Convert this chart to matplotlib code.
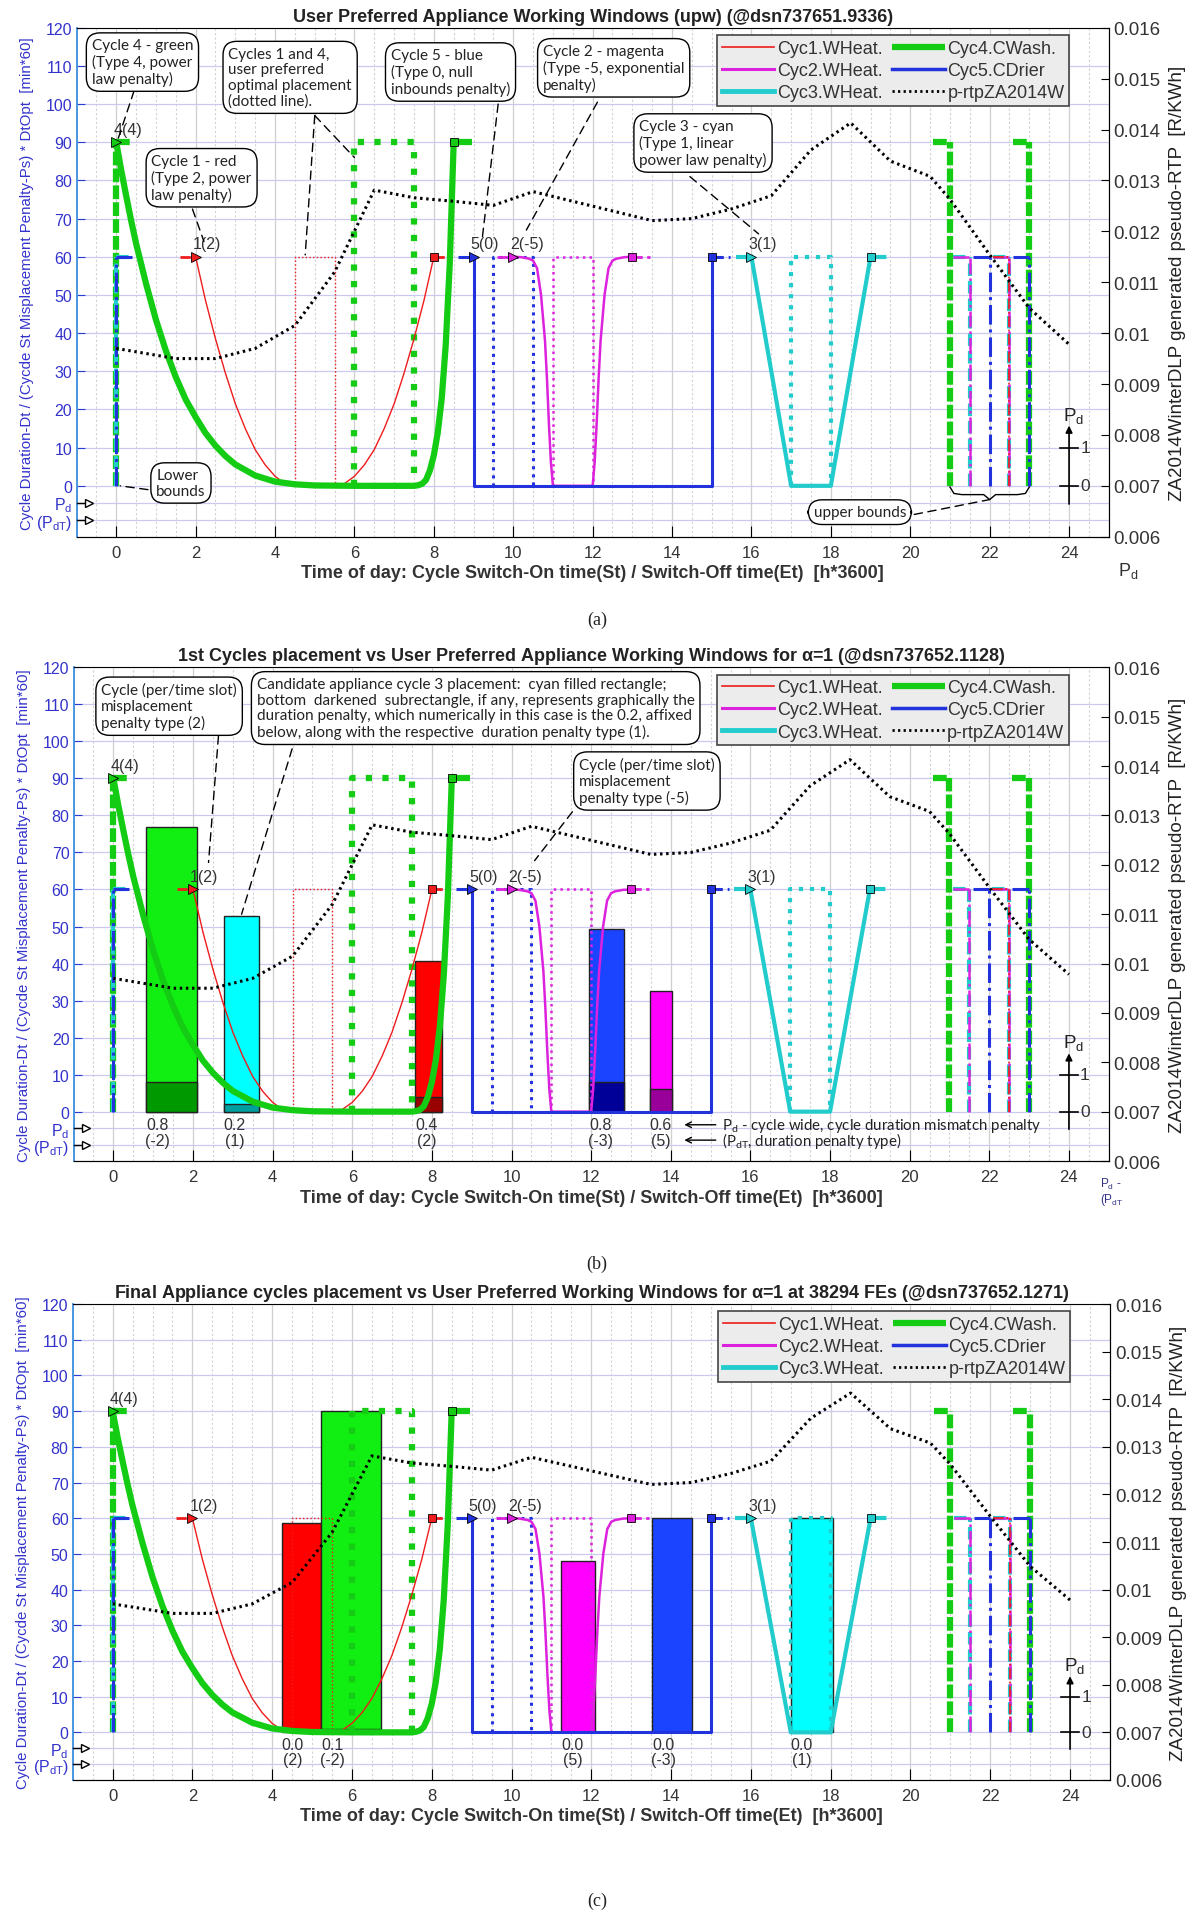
import numpy as np
import matplotlib
matplotlib.use('Agg')
import matplotlib.pyplot as plt
from matplotlib.lines import Line2D
from matplotlib.ticker import MultipleLocator

plt.rcParams['font.family'] = ['Liberation Sans', 'DejaVu Sans']
plt.rcParams['mathtext.default'] = 'regular'

# ---------------- data ----------------
cycle_names = ['Cyc1.WHeat.', 'Cyc2.WHeat.', 'Cyc3.WHeat.', 'Cyc4.CWash.', 'Cyc5.CDrier']
cycle_colors = ['#ee1c1c', '#dd22dd', '#22cccc', '#14cc14', '#2233dd']
bar_colors = ['#ff0000', '#ff00ff', '#00ffff', '#11ee11', '#1a44ff']
dark_colors = ['#990000', '#990099', '#009f9f', '#009900', '#000099']
cycle_lw = [1.0, 1.8, 3.0, 4.5, 2.2]
lower_bound = [2.0, 10.0, 16.0, 0.0, 9.0]
upper_bound = [8.0, 13.0, 19.0, 8.5, 15.0]
opt_start = [4.5, 11.0, 17.0, 6.0, 9.5]
opt_end = [5.5, 12.0, 18.0, 7.5, 10.5]
cycle_height = [60, 60, 60, 90, 60]
cycle_tag = ['1(2)', '2(-5)', '3(1)', '4(4)', '5(0)']

# penalty curves
pen_t = [
    [2.0, 2.25, 2.5, 2.75, 3.0, 3.25, 3.5, 3.75, 4.0, 4.25, 4.5,
     5.5, 5.75, 6.0, 6.25, 6.5, 6.75, 7.0, 7.25, 7.5, 7.75, 8.0],
    [10.0, 10.2, 10.4, 10.5, 10.6, 10.7, 10.8, 10.85, 10.9, 10.95, 11.0,
     12.0, 12.05, 12.1, 12.15, 12.2, 12.3, 12.4, 12.5, 12.6, 12.8, 13.0],
    [16.0, 17.0, 18.0, 19.0],
    [0.0, 0.125, 0.25, 0.375, 0.5, 0.75, 1.0, 1.25, 1.5, 1.75, 2.0, 2.25, 2.5, 2.75,
     3.0, 3.5, 4.0, 4.5, 5.0, 6.0,
     7.5, 7.6, 7.7, 7.8, 7.9, 8.0, 8.1, 8.2, 8.3, 8.4, 8.5],
    [9.0, 9.0, 15.0, 15.0],
]
pen_y = [
    [60, 48.5, 38.5, 29.5, 21.5, 15, 9.5, 5.5, 2.5, 0.6, 0,
     0, 0.6, 2.5, 5.5, 9.5, 15, 21.5, 29.5, 38.5, 48.5, 60],
    [60, 59.9, 59.5, 59, 57, 50, 38, 28, 16, 6, 0,
     0, 6, 16, 28, 38, 50, 57, 59, 59.5, 59.9, 60],
    [60, 0, 0, 60],
    [90, 82.7, 76, 69.5, 63.5, 53, 43.5, 35.4, 28.5, 22.6, 18, 13.8, 10.5, 7.8,
     5.6, 2.7, 1.1, 0.4, 0.1, 0,
     0, 0.15, 0.5, 1.5, 4, 8, 14, 23, 37, 58, 90],
    [60, 0, 0, 60],
]

# wrapped window bounds shown at the day edges
lb_wrap = [[], [], [0.0], [0.0], [0.0]]
ub_wrap = [[22.5], [21.5, 22.5], [21.5, 22.5], [21.0, 23.0], [22.0, 23.0]]

# pseudo real-time price (right axis)
price_hours = [0, 1.5, 2.5, 3.5, 4.5, 5.5, 6.5, 7.5, 8.5, 9.5, 10.5, 11.5, 12.5,
               13.5, 14.5, 15.5, 16.5, 17.5, 18.5, 19.5, 20.5, 21.0, 22.0, 23.0, 24.0]
price = [0.0097, 0.0095, 0.0095, 0.0097, 0.01015, 0.0112, 0.01281, 0.01266, 0.01259,
         0.01251, 0.01278, 0.01259, 0.0124, 0.01221, 0.01225, 0.01244, 0.0127, 0.0136,
         0.01413, 0.01338, 0.01308, 0.01263, 0.01154, 0.01049, 0.00978]

# panel (b): first placement
b_cycle = [3, 2, 0, 4, 1]
b_start = [0.83, 2.77, 7.58, 11.95, 13.47]
b_width = [1.28, 0.88, 0.67, 0.88, 0.57]
b_height = [77.0, 52.8, 40.6, 49.4, 32.7]
b_pd = [0.8, 0.2, 0.4, 0.8, 0.6]
b_pdt = ['(-2)', '(1)', '(2)', '(-3)', '(5)']

# panel (c): final placement
c_cycle = [0, 3, 1, 4, 2]
c_start = [4.24, 5.22, 11.25, 13.52, 17.0]
c_width = [0.98, 1.52, 0.83, 1.01, 1.05]
c_height = [58.7, 90.0, 48.1, 60.0, 60.0]
c_pd = [0.0, 0.1, 0.0, 0.0, 0.0]
c_pdt = ['(2)', '(-2)', '(5)', '(-3)', '(1)']

titles = [
    'User Preferred Appliance Working Windows (upw) (@dsn737651.9336)',
    r'1st Cycles placement vs User Preferred Appliance Working Windows for $\alpha$=1 (@dsn737652.1128)',
    r'Final Appliance cycles placement vs User Preferred Working Windows for $\alpha$=1 at 38294 FEs (@dsn737652.1271)',
]

PD_ROW, PDT_ROW = -4.44, -8.89
BLUE_TXT = '#3333cc'
CALLOUT = dict(boxstyle='round,pad=0.35,rounding_size=0.9', fc='white', ec='black', lw=1)


def wrap_style(i):
    if i == 3:
        return dict(ls=(0, (2.2, 0.5)), lw=4.5)
    if i == 2:
        return dict(ls=(0, (3, 1.2)), lw=3.0)
    return dict(ls='-.', lw=max(cycle_lw[i], 1.2))


def draw_panel(ax, ax2, title):
    ax.set_xlim(-1, 25)
    ax.set_ylim(-13.333, 120)
    ax2.set_ylim(0.006, 0.016)
    ax.set_axisbelow(True)

    # optimal placement (dotted rectangles)
    for i in range(5):
        h = cycle_height[i]
        ax.plot([opt_start[i], opt_start[i], opt_end[i], opt_end[i]], [0, h, h, 0],
                color=cycle_colors[i], lw=cycle_lw[i], ls=':', zorder=3)

    # wrapped bounds, thick first
    for i in sorted(range(5), key=lambda k: -cycle_lw[k]):
        h = cycle_height[i]
        st = wrap_style(i)
        for x in lb_wrap[i]:
            ax.plot([x, x], [0, h], color=cycle_colors[i], zorder=3, **st)
            ax.plot([x, x + 0.4], [h, h], color=cycle_colors[i], zorder=3, **st)
        for x in ub_wrap[i]:
            ax.plot([x, x], [0, h], color=cycle_colors[i], zorder=3, **st)
            ax.plot([x - 0.42, x], [h, h], color=cycle_colors[i], zorder=3, **st)

    # penalty curves, bounds, markers
    for i in range(5):
        c, h, lw = cycle_colors[i], cycle_height[i], cycle_lw[i]
        ax.plot(pen_t[i], pen_y[i], color=c, lw=lw, zorder=4, solid_joinstyle='round')
        if lower_bound[i] > 0:
            ax.plot([lower_bound[i] - 0.4, lower_bound[i]], [h, h], color=c, lw=max(lw, 2), ls='--', zorder=4)
        ax.plot([upper_bound[i], upper_bound[i] + 0.45], [h, h], color=c, lw=max(lw, 2), ls='--', zorder=4)
        ax.plot(lower_bound[i], h, marker='>', ms=7, mfc=c, mec='k', mew=0.6, zorder=5)
        ax.plot(upper_bound[i], h, marker='s', ms=5.5, mfc=c, mec='k', mew=0.6, zorder=5)
        ax.text(lower_bound[i] - 0.07, h + 1.5, cycle_tag[i], fontsize=11.5, color='#333333',
                ha='left', va='bottom', zorder=6)

    # price line on right axis
    ax2.plot(price_hours, price, color='k', lw=2.2, ls=(0, (0.8, 1.2)), zorder=5)

    # grids / ticks
    ax.set_xticks(np.arange(0, 25, 2))
    ax.xaxis.set_minor_locator(MultipleLocator(0.5))
    ax.grid(which='major', axis='x', color='#cfcfcf', lw=0.9)
    ax.grid(which='minor', axis='x', color='#d2d2d2', lw=0.8, ls=(0, (2, 2)))
    yt = [PDT_ROW, PD_ROW] + list(range(0, 121, 10))
    ax.set_yticks(yt)
    ax.set_yticklabels([r'(P$_{dT}$)', r'P$_d$'] + [str(v) for v in range(0, 121, 10)])
    for lab in ax.get_yticklabels()[:2]:
        lab.set_fontsize(13)
    ax.grid(which='major', axis='y', color='#c9c9f2', lw=0.9)
    ax.tick_params(axis='x', which='major', direction='in', length=8, labelsize=12,
                   labelcolor='#333333', pad=6)
    ax.tick_params(axis='x', which='minor', length=0)
    ax.tick_params(axis='y', direction='in', length=6, color='#2a3fd0', labelsize=11.5,
                   labelcolor=BLUE_TXT, pad=3)
    ax.spines['left'].set_color('#3a8fe0')
    ax.spines['left'].set_linewidth(1.3)
    for s in ['left', 'top']:
        ax2.spines[s].set_visible(False)
    ax2.set_yticks(np.arange(0.006, 0.0161, 0.001))
    ax2.set_yticklabels(['%g' % round(v, 3) for v in np.arange(0.006, 0.0161, 0.001)])
    ax2.tick_params(axis='y', direction='in', length=6, labelsize=13.5, labelcolor='#333333')

    # Pd / PdT row markers on the left
    for yr in (PD_ROW, PDT_ROW):
        ax.plot([-1, -0.68], [yr, yr], color='k', lw=1, clip_on=False, zorder=6)
        ax.plot(-0.68, yr, marker='>', ms=6, mfc='white', mec='k', mew=1, clip_on=False, zorder=6)

    # small Pd scale at hour 24
    ax.annotate('', xy=(24, 16.5), xytext=(24, -5.5),
                arrowprops=dict(arrowstyle='-|>', color='k', lw=1.2, mutation_scale=10))
    for v, lab in ((0, '0'), (10, '1')):
        ax.plot([23.78, 24.22], [v, v], color='k', lw=1.2, zorder=6)
        ax.text(24.28, v, lab, fontsize=12.5, color='#333333', va='center', ha='left')
    ax.text(23.85, 16.0, r'P$_d$', fontsize=13.5, color='#222222', va='bottom', ha='left')

    ax.set_title(title, fontsize=13, fontweight='bold', color='#222222', pad=5)
    ax.set_xlabel('Time of day: Cycle Switch-On time(St) / Switch-Off time(Et)  [h*3600]',
                  fontsize=13, fontweight='bold', color='#333333', labelpad=3)
    ax.set_ylabel('Cycle Duration-Dt / (Cycde St Misplacement Penalty-Ps) * DtOpt  [min*60]',
                  fontsize=10.8, color=BLUE_TXT, labelpad=2)
    ax2.set_ylabel('ZA2014WinterDLP generated pseudo-RTP  [R/KWh]', fontsize=13.5,
                   color='#222222', labelpad=6)

    handles = [Line2D([], [], color=cycle_colors[0], lw=1.2),
               Line2D([], [], color=cycle_colors[1], lw=2.2),
               Line2D([], [], color=cycle_colors[2], lw=3.5),
               Line2D([], [], color=cycle_colors[3], lw=4.5, solid_capstyle='butt'),
               Line2D([], [], color=cycle_colors[4], lw=2.5),
               Line2D([], [], color='k', lw=2, ls=(0, (0.8, 1.2)))]
    labels = cycle_names + ['p-rtpZA2014W']
    leg = ax2.legend(handles, labels, ncol=2, loc='upper right', bbox_to_anchor=(0.965, 0.992),
                     fontsize=13, frameon=True, fancybox=False, facecolor='#ececec',
                     edgecolor='#444444', framealpha=1, handlelength=2.9, handletextpad=0.15,
                     columnspacing=0.55, labelspacing=0.28, borderpad=0.25, borderaxespad=0.2)
    leg.get_frame().set_linewidth(1.2)
    for t in leg.get_texts():
        t.set_color('#333333')
    leg.set_zorder(20)


def draw_bars(ax, cyc, start, width, height, pd, pdt):
    for k in range(len(cyc)):
        i = cyc[k]
        ax.bar(start[k], height[k], width[k], align='edge', color=bar_colors[i],
               edgecolor='#222222', lw=1, zorder=2)
        if pd[k] > 0:
            ax.bar(start[k], pd[k] * 10, width[k], align='edge', color=dark_colors[i],
                   edgecolor='#222222', lw=1, zorder=2.1)
        xm = start[k] + 0.28
        ax.text(xm, PD_ROW + 0.9, '%.1f' % pd[k], fontsize=11.5, color='#333333', ha='center', va='center')
        ax.text(xm, PDT_ROW + 1.2, pdt[k], fontsize=11.5, color='#333333', ha='center', va='center')


def callout(ax, x, y, txt, leaders, fs=11):
    ax.text(x, y, txt, fontsize=fs, family=['Lato', 'DejaVu Sans'], color='#222222',
            ha='center', va='center', multialignment='left', linespacing=1.15,
            bbox=CALLOUT, zorder=15)
    for (x0, y0, x1, y1) in leaders:
        ax.annotate('', xy=(x1, y1), xytext=(x0, y0),
                    arrowprops=dict(arrowstyle='-', ls=(0, (6, 4)), color='k', lw=1.0,
                                    shrinkA=0, shrinkB=0), zorder=14)


fig = plt.figure(figsize=(11.94, 19.15), dpi=100)
pos = [[0.0641, 0.7192, 0.8645, 0.2658],
       [0.0616, 0.3932, 0.8670, 0.2578],
       [0.0609, 0.0700, 0.8687, 0.2485]]
axes = []
for p, ttl in zip(pos, titles):
    ax = fig.add_axes(p)
    ax2 = ax.twinx()
    draw_panel(ax, ax2, ttl)
    axes.append(ax)

ax_a, ax_b, ax_c = axes
draw_bars(ax_b, b_cycle, b_start, b_width, b_height, b_pd, b_pdt)
draw_bars(ax_c, c_cycle, c_start, c_width, c_height, c_pd, c_pdt)

# panel (a) callouts
callout(ax_a, 0.66, 111, 'Cycle 4 - green\n(Type 4, power\nlaw penalty)', [(0.45, 103.5, 0.05, 91)])
callout(ax_a, 2.15, 80.7, 'Cycle 1 - red\n(Type 2, power\nlaw penalty)', [(1.92, 72.5, 2.21, 64)])
callout(ax_a, 4.38, 107, 'Cycles 1 and 4,\nuser preferred\noptimal placement\n(dotted line).',
        [(5.0, 97.0, 4.76, 60.5), (5.0, 97.0, 6.0, 86)])
callout(ax_a, 8.42, 108.4, 'Cycle 5 - blue\n(Type 0, null\ninbounds penalty)', [(9.62, 100, 9.21, 64)])
callout(ax_a, 12.53, 109.5, 'Cycle 2 - magenta\n(Type -5, exponential\npenalty)', [(12.12, 100.5, 10.33, 67)])
callout(ax_a, 14.78, 89.8, 'Cycle 3 - cyan\n(Type 1, linear\npower law penalty)', [(14.45, 81, 16.18, 66)])
callout(ax_a, 1.63, 0.75, 'Lower\nbounds', [(0.8, -1, 0.1, 0)])
callout(ax_a, 18.73, -6.9, 'upper bounds', [(20.1, -7.5, 22.0, -3.6)])
# brace under the upper bounds
bx = [21.0, 21.1, 21.3, 21.85, 22.0, 22.15, 22.7, 22.9, 23.0]
by = [-0.3, -2.0, -2.3, -2.3, -3.6, -2.3, -2.3, -2.0, -0.3]
ax_a.plot(bx, by, color='k', lw=1, zorder=6)

# panel (b) callouts
callout(ax_b, 1.4, 109.5, 'Cycle (per/time slot)\nmisplacement\npenalty type (2)', [(2.64, 101.5, 2.39, 67.3)])
callout(ax_b, 9.1, 109,
        'Candidate appliance cycle 3 placement:  cyan filled rectangle;\n'
        'bottom  darkened  subrectangle, if any, represents graphically the\n'
        'duration penalty, which numerically in this case is the 0.2, affixed\n'
        'below, along with the respective  duration penalty type (1).',
        [(4.49, 98, 3.22, 53.3)])
callout(ax_b, 13.4, 89.3, 'Cycle (per/time slot)\nmisplacement\npenalty type (-5)', [(11.53, 81, 10.58, 67.8)])
for yy, txt in ((PD_ROW + 0.9, r'P$_d$ - cycle wide, cycle duration mismatch penalty'),
                (PDT_ROW + 1.2, r'(P$_{dT}$, duration penalty type)')):
    ax_b.annotate('', xy=(14.27, yy), xytext=(15.2, yy),
                  arrowprops=dict(arrowstyle='->', color='k', lw=1))
    ax_b.text(15.28, yy, txt, fontsize=10.8, family=['Lato', 'DejaVu Sans'], color='#222222',
              va='center', ha='left')

fig.text(0.936, 0.699, r'P$_d$', fontsize=13, color='#333333')
fig.text(0.921, 0.372, 'P$_d$ -\n(P$_{dT}$', fontsize=8.5, color='#333388', linespacing=1.0)

for yc, lab in ((620, '(a)'), (1264, '(b)'), (1901, '(c)')):
    fig.text(0.5, 1 - yc / 1915, lab, ha='center', va='center', fontsize=13,
             family='Liberation Serif', color='#222222')

fig.savefig('out.png', dpi=100)
